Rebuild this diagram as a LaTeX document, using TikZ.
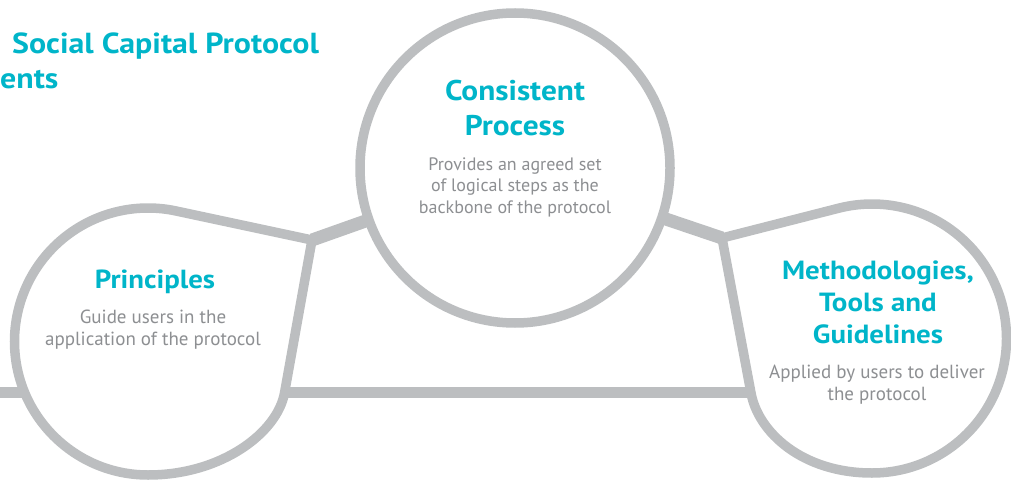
\documentclass[tikz,border=0pt]{standalone}
\usepackage{fontspec}
\setmainfont{PT Sans}
\newfontfamily\headfont{PT Sans}[FakeStretch=1.1]
\definecolor{ring}{HTML}{BCBEC0}
\definecolor{headc}{HTML}{00B5C9}
\definecolor{bodyc}{HTML}{8D8F92}
\begin{document}
\begin{tikzpicture}[x=1pt,y=-1pt,
  ringline/.style={draw=ring, line width=9.5pt, line join=miter},
  barline/.style={draw=ring, line width=11.5pt},
  linkline/.style={draw=ring, line width=13pt},
  headt/.style={text=headc, align=center, inner sep=0pt},
  bodyt/.style={text=bodyc, align=center, inner sep=0pt}]
\useasboundingbox (0,0) rectangle (1011,481);
\clip (0,0) rectangle (1011,481);
% key points
\coordinate (J1) at (312,240);
\coordinate (J2) at (722,238);
\coordinate (cpc) at (515,168);
\coordinate (barL) at (-5,392.5);
\coordinate (barR) at (900,392.5);
\coordinate (P1) at (284.5,393);
\coordinate (B1) at (148,475);
\coordinate (P2) at (751,393);
\coordinate (B2) at (872,473);
% base bar and links
\draw[barline] (barL) -- (barR);
\draw[linkline] (J1) -- (cpc);
\draw[linkline] (J2) -- (cpc);
% teardrops
\path[ringline, fill=white] (J1) -- (P1) .. controls (277.4,432.4) and (222,475) .. (B1)
  arc[start angle=90, end angle=282, radius=133.5] -- cycle;
\path[ringline, fill=white] (J2) -- (P2) .. controls (758,432) and (802,473) .. (B2)
  arc[start angle=90, end angle=-104.3, radius=134.5] -- cycle;
% central circle
\node[circle, ringline, fill=white, minimum size=310pt, inner sep=0pt] (cp) at (cpc) {};
% texts
\node[headt, anchor=north, font=\headfont\bfseries\fontsize{28.5}{35}\selectfont] (cpT) at (515,79.5) {Consistent\\Process};
\node[bodyt, anchor=north, font=\fontsize{18}{21.5}\selectfont] (cpB) at (515,157.5) {Provides an agreed set\\of logical steps as the\\backbone of the protocol};
\node[headt, anchor=base, font=\headfont\bfseries\fontsize{26.2}{33}\selectfont] (prT) at (155,288) {Principles};
\node[bodyt, anchor=north, font=\fontsize{19}{22}\selectfont] (prB) at (153,309.5) {Guide users in the\\application of the protocol};
\node[headt, anchor=north, font=\headfont\bfseries\fontsize{26.3}{32}\selectfont] (meT) at (878,261) {Methodologies,\\Tools and\\Guidelines};
\node[bodyt, anchor=north, font=\fontsize{19}{22}\selectfont] (meB) at (877,364.5) {Applied by users to deliver\\the protocol};
\node[headt, anchor=base west, font=\headfont\bfseries\fontsize{29}{35}\selectfont] (tt1) at (12,54) {Social Capital Protocol};
\node[headt, anchor=base west, font=\headfont\bfseries\fontsize{29}{35}\selectfont] (tt2) at (0,89) {ents};
\end{tikzpicture}
\end{document}
